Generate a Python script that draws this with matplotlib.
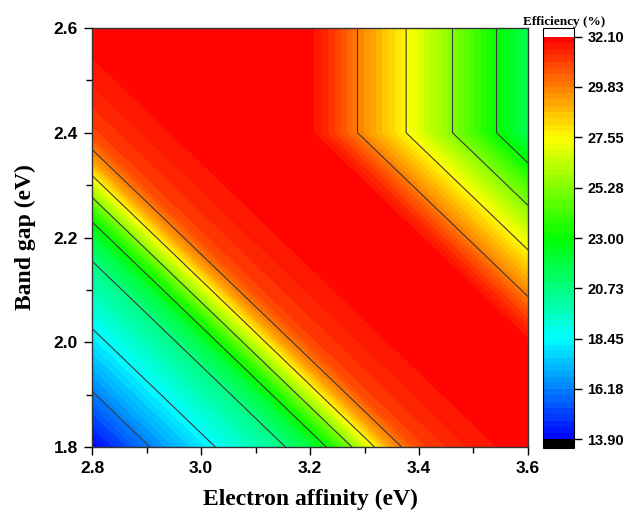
import numpy as np
import matplotlib
matplotlib.use("Agg")
import matplotlib.pyplot as plt
from matplotlib.colors import LinearSegmentedColormap
from matplotlib.ticker import MultipleLocator, FormatStrFormatter

# ---- data ----
affinity = [2.80, 2.85, 2.90, 2.95, 3.00, 3.05, 3.10, 3.15, 3.20,
            3.25, 3.30, 3.35, 3.40, 3.45, 3.50, 3.55, 3.60]          # eV (x)
band_gap = [1.80, 1.85, 1.90, 1.95, 2.00, 2.05, 2.10, 2.15, 2.20,
            2.25, 2.30, 2.35, 2.40, 2.45, 2.50, 2.55, 2.60]          # eV (y)

# efficiency along (affinity + band gap) = 4.60, 4.65, ... 6.20  (left/lower side)
eff_rise = [13.90, 15.00, 16.05, 17.02, 17.97, 18.88, 19.75, 20.61, 21.80,
            23.80, 26.56, 29.25, 30.85, 31.25, 31.60, 31.85, 31.95, 32.00,
            32.05, 32.10, 32.10, 32.10, 32.10, 32.10, 32.10, 32.10, 32.10,
            32.10, 32.10, 32.10, 32.10, 32.10, 32.10]
# efficiency along (affinity + min(band gap, 2.4)) = 4.60 ... 6.00  (upper/right side)
eff_fall = [32.10, 32.10, 32.10, 32.10, 32.10, 32.10, 32.10, 32.10, 32.10,
            32.10, 32.10, 32.10, 32.10, 32.10, 32.10, 32.10, 32.10, 32.10,
            32.10, 32.10, 31.95, 30.85, 29.48, 28.23, 26.94, 25.60, 24.20,
            22.78, 21.60]
gap_limit = 2.40

cbar_ticks = [13.90, 16.18, 18.45, 20.73, 23.00, 25.28, 27.55, 29.83, 32.10]
line_levels = [16.18, 18.45, 20.73, 23.00, 25.28, 27.55, 29.83]

# ---- build efficiency table from the read profiles ----
ii, jj = np.meshgrid(np.arange(len(affinity)), np.arange(len(band_gap)))
kcap = band_gap.index(gap_limit)
Z = np.minimum(np.array(eff_rise)[ii + jj],
               np.array(eff_fall)[ii + np.minimum(jj, kcap)])

# ---- figure ----
fig = plt.figure(figsize=(6.28, 5.12), dpi=100)
ax = fig.add_axes([92 / 628, 65 / 512, 436 / 628, 419 / 512])
cax = fig.add_axes([543 / 628, 64 / 512, 30.5 / 628, 420 / 512])

cmap = LinearSegmentedColormap.from_list(
    "origin_rainbow", ["#0000FF", "#00FFFF", "#00FF00", "#FFFF00", "#FF0000"])
cmap.set_under("black")
cmap.set_over("white")

fill_levels = np.linspace(cbar_ticks[0], cbar_ticks[-1], 65)
cf = ax.contourf(affinity, band_gap, Z, levels=fill_levels, cmap=cmap,
                 extend="both", antialiased=False)
ax.contour(affinity, band_gap, Z, levels=line_levels, colors="#3a3a3a",
           linewidths=0.8)

ax.set_xlim(2.8, 3.6)
ax.set_ylim(1.8, 2.6)
ax.xaxis.set_major_locator(MultipleLocator(0.2))
ax.xaxis.set_minor_locator(MultipleLocator(0.1))
ax.yaxis.set_major_locator(MultipleLocator(0.2))
ax.yaxis.set_minor_locator(MultipleLocator(0.1))
ax.xaxis.set_major_formatter(FormatStrFormatter("%.1f"))
ax.yaxis.set_major_formatter(FormatStrFormatter("%.1f"))
ax.tick_params(which="major", direction="out", length=6, width=1.0, pad=4)
ax.tick_params(which="minor", direction="out", length=4, width=1.0)
for lab in ax.get_xticklabels() + ax.get_yticklabels():
    lab.set_fontfamily("Liberation Sans")
    lab.set_fontweight("bold")
    lab.set_fontsize(12.5)
for sp in ax.spines.values():
    sp.set_linewidth(1.0)
    sp.set_color("#333333")

ax.set_xlabel("Electron affinity (eV)", fontfamily="Liberation Serif",
              fontweight="bold", fontsize=17, labelpad=9)
ax.set_ylabel("Band gap (eV)", fontfamily="Liberation Serif",
              fontweight="bold", fontsize=17, labelpad=13)

cb = fig.colorbar(cf, cax=cax, extendrect=True, extendfrac=0.0212)
cb.set_ticks(cbar_ticks)
cb.ax.yaxis.set_major_formatter(FormatStrFormatter("%.2f"))
cb.ax.tick_params(which="major", direction="out", length=6, width=1.0, pad=4)
cb.ax.minorticks_off()
cb.outline.set_linewidth(0.8)
for lab in cb.ax.get_yticklabels():
    lab.set_fontfamily("Liberation Sans")
    lab.set_fontweight("bold")
    lab.set_fontsize(10.5)

fig.text(564 / 628, 1 - 25 / 512, "Efficiency (%)", ha="center", va="baseline",
         fontfamily="Liberation Serif", fontweight="bold", fontsize=9.5)

fig.savefig("out.png", dpi=100)
